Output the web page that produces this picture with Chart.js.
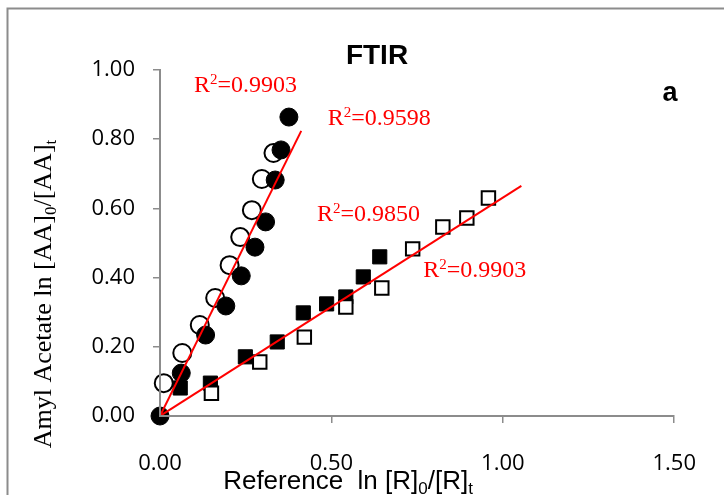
<!DOCTYPE html>
<html>
<head>
<meta charset="utf-8">
<script src="https://cdn.jsdelivr.net/npm/chart.js@4.4.1/dist/chart.umd.min.js"></script>
<style>
  html, body { margin: 0; padding: 0; background: #fff; }
</style>
</head>
<body>
<canvas id="ftirChart" width="724" height="495"></canvas>
<script>
// FTIR relative rate plot: ln([AA]0/[AA]t) vs ln([R]0/[R]t)

// open circles
const openCircleX = [0.011, 0.065, 0.116, 0.161, 0.203, 0.234, 0.268, 0.297, 0.331];
const openCircleY = [0.095, 0.182, 0.263, 0.341, 0.436, 0.517, 0.595, 0.685, 0.760];
// filled circles
const filledCircleX = [0, 0.062, 0.133, 0.192, 0.237, 0.277, 0.308, 0.336, 0.353, 0.376];
const filledCircleY = [0, 0.124, 0.234, 0.318, 0.405, 0.488, 0.561, 0.682, 0.769, 0.864];
// open squares
const openSquareX = [0.150, 0.291, 0.421, 0.542, 0.647, 0.737, 0.825, 0.895, 0.958];
const openSquareY = [0.066, 0.156, 0.228, 0.315, 0.370, 0.483, 0.546, 0.572, 0.630];
// filled squares
const filledSquareX = [0.059, 0.147, 0.249, 0.342, 0.418, 0.486, 0.542, 0.593, 0.641];
const filledSquareY = [0.081, 0.095, 0.171, 0.214, 0.298, 0.324, 0.344, 0.402, 0.460];
// fitted lines (ends)
const steepFitX = [0, 0.412];
const steepFitY = [0, 0.824];
const shallowFitX = [0, 1.054];
const shallowFitY = [0, 0.665];

const xTicks = [0, 0.5, 1.0, 1.5];
const yTicks = [0, 0.2, 0.4, 0.6, 0.8, 1.0];
const r2Values = ['0.9903', '0.9598', '0.9850', '0.9903'];

// where the R² texts sit (data units: left edge, baseline)
const r2Anchors = [
    { x: 0.099, y: 0.937 },
    { x: 0.489, y: 0.841 },
    { x: 0.458, y: 0.564 },
    { x: 0.768, y: 0.402 }
];

function toPoints(xs, ys) {
    return xs.map((x, i) => ({ x: x, y: ys[i] }));
}

// draw a run of text pieces (for sub/superscripts)
function drawParts(ctx, parts, x, y, align) {
    let total = 0;
    parts.forEach(p => { ctx.font = p.f; total += ctx.measureText(p.t).width; });
    let cx = align === 'center' ? x - total / 2 : x;
    ctx.textAlign = 'left';
    ctx.textBaseline = 'alphabetic';
    parts.forEach(p => {
        ctx.font = p.f;
        ctx.fillText(p.t, cx, y + (p.dy || 0));
        cx += ctx.measureText(p.t).width;
    });
}

const overlay = {
    id: 'overlay',
    afterDraw(chart) {
        const ctx = chart.ctx;
        const xs = chart.scales.x, ys = chart.scales.y;
        ctx.save();

        // chart frame (cut off on the right and bottom)
        ctx.strokeStyle = '#8c8c8c';
        ctx.lineWidth = 2;
        ctx.strokeRect(7.5, 8.5, 900, 700);

        ctx.fillStyle = '#000';
        ctx.textAlign = 'center';
        ctx.textBaseline = 'alphabetic';
        ctx.font = 'bold 28px "Liberation Sans"';
        ctx.fillText('FTIR', 377, 64);
        ctx.font = 'bold 27px "Liberation Sans"';
        ctx.fillText('a', 670, 101);

        // R² labels
        ctx.fillStyle = '#ff0000';
        const big = '24px "Liberation Serif"', sup = '15px "Liberation Serif"';
        r2Values.forEach((v, i) => {
            const a = r2Anchors[i];
            drawParts(ctx, [
                { t: 'R', f: big },
                { t: '2', f: sup, dy: -8 },
                { t: '=' + v, f: big }
            ], xs.getPixelForValue(a.x), ys.getPixelForValue(a.y), 'left');
        });

        // axis titles
        ctx.fillStyle = '#000';
        const sans = '26px "Liberation Sans"', sansSub = '17px "Liberation Sans"';
        drawParts(ctx, [
            { t: 'Reference  ln [R]', f: sans },
            { t: '0', f: sansSub, dy: 5 },
            { t: '/[R]', f: sans },
            { t: 't', f: sansSub, dy: 5 }
        ], 348, 489, 'center');

        const serif = '26px "Liberation Serif"', serifSub = '17px "Liberation Serif"';
        ctx.translate(51, 294);
        ctx.rotate(-Math.PI / 2);
        drawParts(ctx, [
            { t: 'Amyl Acetate ln [AA]', f: serif },
            { t: '0', f: serifSub, dy: 5 },
            { t: '/[AA]', f: serif },
            { t: 't', f: serifSub, dy: 5 }
        ], 0, 0, 'center');

        ctx.restore();
    }
};

const axisGray = '#8c8c8c';
const tickFont = { family: '"Open Sans"', size: 22 };

new Chart(document.getElementById('ftirChart').getContext('2d'), {
    type: 'scatter',
    data: {
        datasets: [{
            label: 'fit steep',
            data: toPoints(steepFitX, steepFitY),
            showLine: true,
            borderColor: '#ff0000',
            borderWidth: 2,
            pointRadius: 0,
            order: 0
        }, {
            label: 'fit shallow',
            data: toPoints(shallowFitX, shallowFitY),
            showLine: true,
            borderColor: '#ff0000',
            borderWidth: 2,
            pointRadius: 0,
            order: 0
        }, {
            label: 'filled circles',
            data: toPoints(filledCircleX, filledCircleY),
            pointStyle: 'circle',
            pointRadius: 9,
            borderWidth: 1,
            borderColor: '#000',
            backgroundColor: '#000',
            clip: false,
            order: 1
        }, {
            label: 'open circles',
            data: toPoints(openCircleX, openCircleY),
            pointStyle: 'circle',
            pointRadius: 9,
            borderWidth: 2,
            borderColor: '#000',
            backgroundColor: '#fff',
            clip: false,
            order: 2
        }, {
            label: 'open squares',
            data: toPoints(openSquareX, openSquareY),
            pointStyle: 'rect',
            pointRadius: 9.5,
            borderWidth: 2,
            borderColor: '#000',
            backgroundColor: '#fff',
            clip: false,
            order: 3
        }, {
            label: 'filled squares',
            data: toPoints(filledSquareX, filledSquareY),
            pointStyle: 'rect',
            pointRadius: 10,
            borderWidth: 1,
            borderColor: '#000',
            backgroundColor: '#000',
            clip: false,
            order: 4
        }]
    },
    options: {
        responsive: false,
        animation: false,
        layout: { padding: { top: 70, right: 33, left: 0, bottom: 0 } },
        plugins: {
            legend: { display: false },
            title: { display: false },
            tooltip: { enabled: false }
        },
        scales: {
            x: {
                type: 'linear',
                min: 0,
                max: 1.5,
                afterBuildTicks: s => { s.ticks = xTicks.map(v => ({ value: v })); },
                afterFit: s => { s.height = 79; },
                grid: { drawOnChartArea: false, tickLength: 7, color: axisGray, lineWidth: 1.5 },
                border: { color: axisGray, width: 2, z: 1 },
                ticks: {
                    callback: v => v.toFixed(2),
                    color: '#000',
                    font: tickFont,
                    padding: 28,
                    maxRotation: 0,
                    autoSkip: false
                }
            },
            y: {
                type: 'linear',
                min: 0,
                max: 1,
                afterBuildTicks: s => { s.ticks = yTicks.map(v => ({ value: v })); },
                afterFit: s => { s.width = 160; },
                grid: { drawOnChartArea: false, tickLength: 7, color: axisGray, lineWidth: 1.5 },
                border: { color: axisGray, width: 2, z: 1 },
                ticks: {
                    callback: v => v.toFixed(2),
                    color: '#000',
                    font: tickFont,
                    padding: 18,
                    autoSkip: false
                }
            }
        }
    },
    plugins: [overlay]
});
</script>
</body>
</html>
